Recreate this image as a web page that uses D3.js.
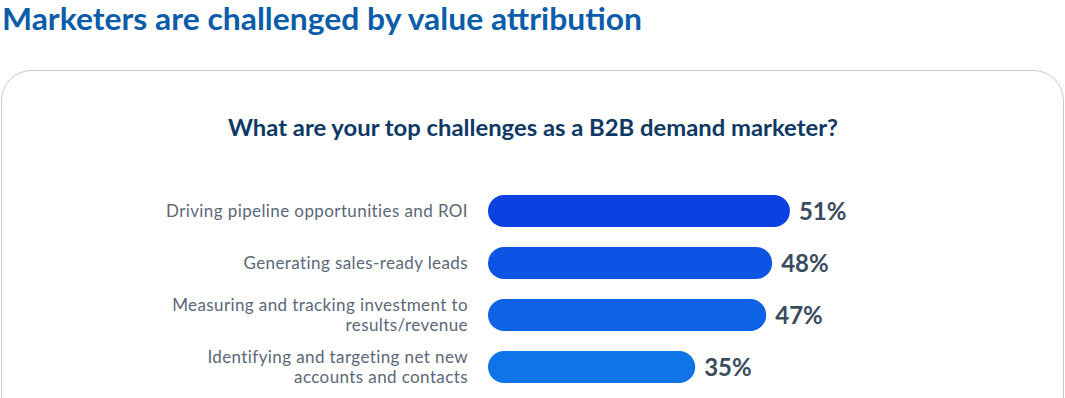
<!DOCTYPE html>
<html>
<head>
<meta charset="utf-8">
<script src="https://d3js.org/d3.v7.min.js"></script>
<style>
  body { margin: 0; background: #fff; }
  svg text { font-family: Lato, "Noto Sans", sans-serif; }
</style>
</head>
<body>
<svg width="1065" height="398"></svg>
<script>
  // chart data
  var categories = [
    ["Driving pipeline opportunities and ROI"],
    ["Generating sales-ready leads"],
    ["Measuring and tracking investment to", "results/revenue"],
    ["Identifying and targeting net new", "accounts and contacts"]
  ];
  var values = [51, 48, 47, 35];
  var barColors = ["#0c40e0", "#0d53e4", "#0e63e5", "#0e74e7"];
  var title = "Marketers are challenged by value attribution";
  var question = "What are your top challenges as a B2B demand marketer?";

  var svg = d3.select("svg"),
      W = +svg.attr("width");

  // page title
  svg.append("text")
    .attr("x", 2)
    .attr("y", 30)
    .attr("fill", "#0b5ca9")
    .attr("font-size", 30)
    .attr("font-weight", "bold")
    .attr("textLength", 640)
    .attr("lengthAdjust", "spacingAndGlyphs")
    .text(title);

  // card
  svg.append("rect")
    .attr("x", 1.5)
    .attr("y", 70.5)
    .attr("width", W - 3)
    .attr("height", 400)
    .attr("rx", 30)
    .attr("fill", "#fff")
    .attr("stroke", "#c9c9c9")
    .attr("stroke-width", 1);

  svg.append("text")
    .attr("x", 533)
    .attr("y", 136)
    .attr("text-anchor", "middle")
    .attr("fill", "#0d3964")
    .attr("font-size", 22)
    .attr("font-weight", "bold")
    .attr("textLength", 610)
    .attr("lengthAdjust", "spacingAndGlyphs")
    .text(question);

  var x = d3.scaleLinear()
      .domain([0, 100])
      .range([488, 488 + 592]);

  var y = d3.scaleBand()
      .domain(d3.range(values.length))
      .range([195 - 10, 383 + 10])
      .paddingInner(20 / 52)
      .paddingOuter(10 / 52);

  var rows = svg.append("g")
    .selectAll("g")
    .data(values)
    .join("g");

  rows.append("rect")
    .attr("x", x(0))
    .attr("y", function(d, i) { return y(i); })
    .attr("width", function(d) { return x(d) - x(0); })
    .attr("height", y.bandwidth())
    .attr("rx", y.bandwidth() / 2)
    .attr("fill", function(d, i) { return barColors[i]; });

  rows.append("text")
    .attr("x", function(d) { return x(d) + 9; })
    .attr("y", function(d, i) { return y(i) + y.bandwidth() / 2; })
    .attr("dy", "0.36em")
    .attr("fill", "#3b4b5e")
    .attr("font-size", 24)
    .attr("font-weight", "bold")
    .text(function(d) { return d + "%"; });

  rows.append("text")
    .attr("text-anchor", "end")
    .attr("fill", "#5b6878")
    .attr("font-size", 17)
    .attr("letter-spacing", 0.4)
    .each(function(d, i) {
      var lines = categories[i];
      var cy = y(i) + y.bandwidth() / 2;
      d3.select(this).selectAll("tspan")
        .data(lines)
        .join("tspan")
        .attr("x", 468)
        .attr("y", function(l, j) { return cy + (j - (lines.length - 1) / 2) * 20; })
        .attr("dy", "0.35em")
        .text(function(l) { return l; });
    });
</script>
</body>
</html>
